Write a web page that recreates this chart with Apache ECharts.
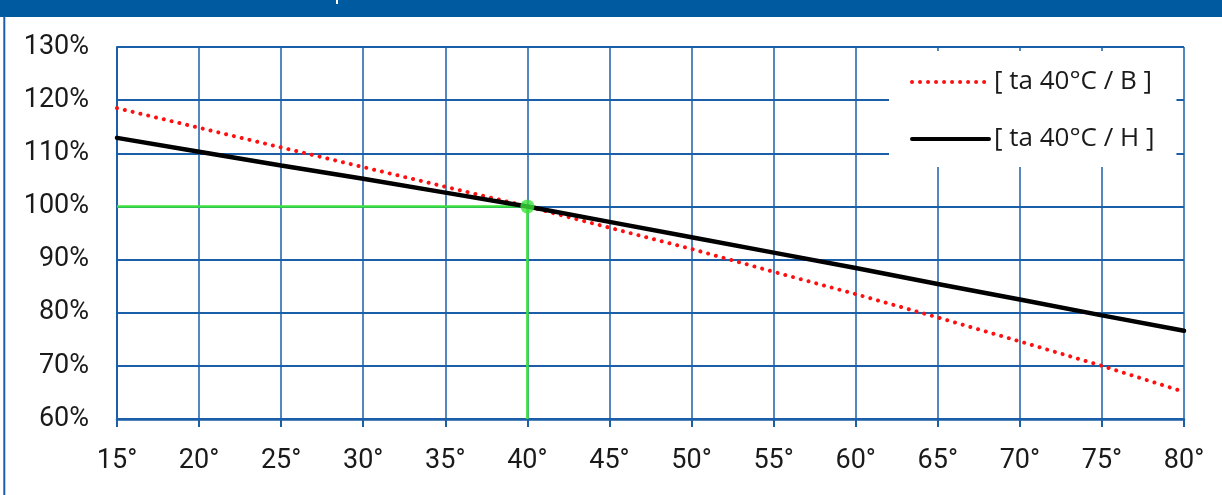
<!DOCTYPE html>
<html>
<head>
<meta charset="utf-8">
<script src="https://cdn.jsdelivr.net/npm/echarts@6/dist/echarts.min.js"></script>
<style>
  html, body { margin: 0; padding: 0; background: #ffffff; }
  #chart { width: 1222px; height: 495px; }
</style>
</head>
<body>
<div id="chart"></div>
<script>
// ---- data ----
const temps = [15, 20, 25, 30, 35, 40, 45, 50, 55, 60, 65, 70, 75, 80];
const seriesB = [118.5, 114.8, 111.1, 107.4, 103.7, 100, 96.0, 92.0, 87.7, 83.5, 79.1, 74.6, 70.0, 65.1];
const seriesH = [112.9, 110.3, 107.7, 105.2, 102.6, 100, 97.1, 94.2, 91.3, 88.4, 85.4, 82.5, 79.5, 76.6];
const nameB = '[ ta 40°C / B ]';
const nameH = '[ ta 40°C / H ]';
const guideX = [15, 40, 40];
const guideY = [100, 100, 60];
const refPoint = [40, 100];
const xTickSuffix = '°';
const yTickSuffix = '%';

const gridBlue = '#1b5fa9';
const green = '#3be23b';

const chart = echarts.init(document.getElementById('chart'), null, { renderer: 'canvas' });

chart.setOption({
  animation: false,
  backgroundColor: '#ffffff',
  grid: { left: 117, right: 38, top: 47, bottom: 76, containLabel: false },
  xAxis: {
    type: 'value', min: 15, max: 80, interval: 5,
    axisLine: { show: true, onZero: false, lineStyle: { color: gridBlue, width: 2.5 } },
    axisTick: { show: true, length: 8, lineStyle: { color: gridBlue, width: 2 } },
    axisLabel: { formatter: '{value}' + xTickSuffix, color: '#1a1a1a', fontFamily: 'Roboto', fontSize: 27, margin: 29 },
    splitLine: { show: true, lineStyle: { color: gridBlue, width: 1.5 } }
  },
  yAxis: {
    type: 'value', min: 60, max: 130, interval: 10,
    axisLine: { show: true, lineStyle: { color: gridBlue, width: 2 } },
    axisTick: { show: false },
    axisLabel: { formatter: '{value}' + yTickSuffix, color: '#1a1a1a', fontFamily: 'Roboto', fontSize: 27, margin: 28 },
    splitLine: { show: true, lineStyle: { color: gridBlue, width: 2 } }
  },
  legend: {
    data: [nameB, nameH],
    orient: 'vertical',
    left: 889, top: 51,
    backgroundColor: '#ffffff',
    padding: [17, 22, 14, 21],
    itemGap: 29,
    itemWidth: 77, itemHeight: 28,
    itemStyle: { opacity: 0 },
    lineStyle: { width: 4, cap: 'round' },
    textStyle: { fontFamily: 'Open Sans', fontSize: 26, color: '#1a1a1a', lineHeight: 28 },
    z: 20
  },
  series: [
    {
      name: 'guide', type: 'line', symbol: 'none', silent: true, z: 3,
      data: guideX.map((x, i) => [x, guideY[i]]),
      lineStyle: { color: green, width: 2.5 }
    },
    {
      name: nameB, type: 'line', symbol: 'none', z: 4,
      data: temps.map((t, i) => [t, seriesB[i]]),
      lineStyle: { color: '#ff1010', width: 4, type: [0.01, 8], cap: 'round' },
      itemStyle: { color: '#ff1010' }
    },
    {
      name: nameH, type: 'line', symbol: 'none', z: 5,
      data: temps.map((t, i) => [t, seriesH[i]]),
      lineStyle: { color: '#000000', width: 4.5, cap: 'round' },
      itemStyle: { color: '#000000' }
    },
    {
      name: 'ref', type: 'scatter', symbol: 'circle', symbolSize: 14, z: 6,
      data: [refPoint],
      itemStyle: { color: green }
    }
  ],
  graphic: [
    { type: 'rect', shape: { x: 0, y: 0, width: 1222, height: 17 }, style: { fill: '#005aa0' }, z: 30 },
    { type: 'rect', shape: { x: 336, y: 0, width: 2, height: 4 }, style: { fill: '#ffffff' }, z: 31 },
    { type: 'rect', shape: { x: 3.3, y: 17, width: 2, height: 478 }, style: { fill: gridBlue }, z: 30 }
  ]
});
</script>
</body>
</html>
